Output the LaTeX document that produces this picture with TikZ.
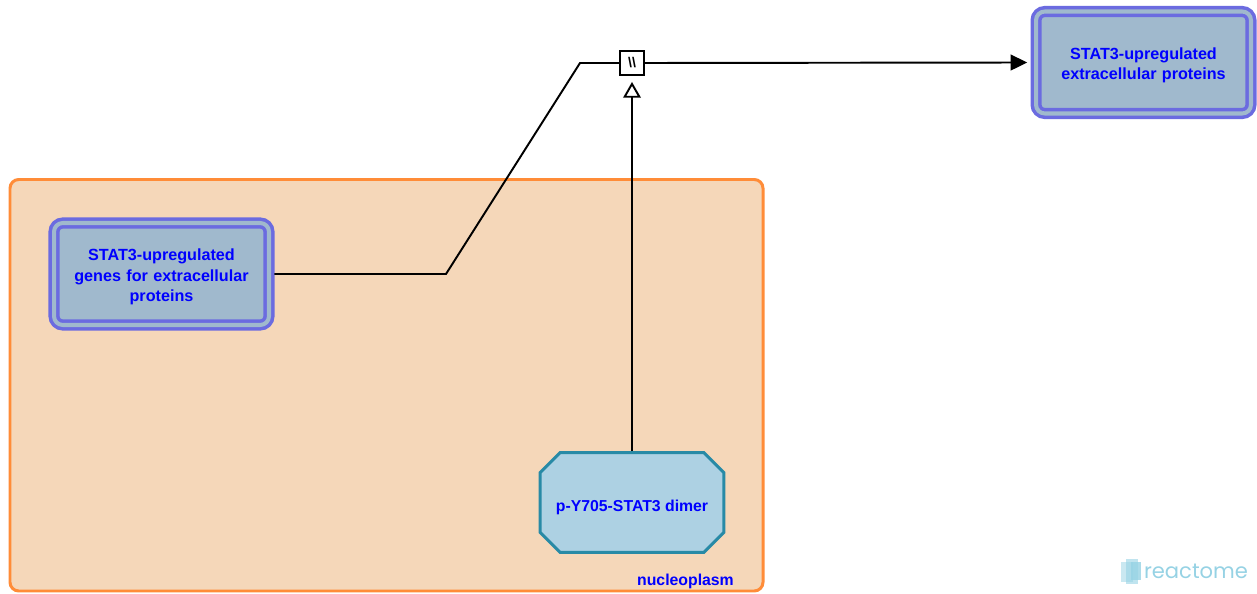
\documentclass[tikz,border=0pt]{standalone}
\usepackage{fontspec}
\setmainfont{Liberation Sans}
\newfontfamily\logofont{Poppins}
\usetikzlibrary{shapes.misc, arrows.meta, positioning}
\definecolor{compline}{RGB}{255,140,56}
\definecolor{compfill}{RGB}{245,215,185}
\definecolor{setline}{RGB}{107,107,224}
\definecolor{setfill}{RGB}{160,185,205}
\definecolor{cplxline}{RGB}{40,138,166}
\definecolor{cplxfill}{RGB}{173,209,227}
\definecolor{labelblue}{RGB}{0,0,255}
\definecolor{logo}{RGB}{150,210,228}

\begin{document}
\begin{tikzpicture}[
    x=0.02cm, y=-0.02cm,
    compartment/.style={draw=compline, fill=compfill, line width=1.7pt, rounded corners=5pt},
    complabel/.style={text=labelblue, font=\bfseries\fontsize{9}{11}\selectfont},
    entityset/.style={rectangle, rounded corners=5pt, draw=setline, double=setfill, double distance=2.3pt, line width=2pt, fill=setfill, text width=3.9cm, align=center, minimum width=4.3cm, minimum height=2.04cm, outer sep=3pt, text=labelblue, font=\bfseries\fontsize{9.2}{11.6}\selectfont, execute at begin node={\rule{0pt}{10.2pt}}},
    complex/.style={chamfered rectangle, chamfered rectangle xsep=8pt, inner xsep=1pt, draw=cplxline, fill=cplxfill, line width=1.7pt, minimum width=3.46cm, minimum height=2cm, text=labelblue, font=\bfseries\fontsize{9}{11}\selectfont, execute at begin node={\rule{0pt}{12.2pt}}},
    reaction/.style={rectangle, draw, fill=white, minimum size=0.48cm, inner sep=0pt, line width=0.9pt, font=\bfseries\fontsize{8}{8}\selectfont},
    flow/.style={line width=1.1pt}
]

\useasboundingbox (0,0) rectangle (1257,594);

% compartment
\draw[compartment] (10,179.5) rectangle (763,591);
\node[complabel, anchor=base east] (nucleolabel) at (740,585) {nucleoplasm};

% entities
\node[entityset] (genes) at (161.5,274) {STAT3-upregulated\\genes for extracellular\\proteins};
\node[entityset] (proteins) at (1143.5,62.5) {STAT3-upregulated\\extracellular proteins};
\node[complex] (dimer) at (632,502.5) {p-Y705-STAT3 dimer};
\node[reaction] (rxn) at (632,63) {\textbackslash\textbackslash};

% connectors
\coordinate (bendA) at (446,274);
\coordinate (bendB) at (580,63);
\draw[flow] (genes.east) -- (bendA) -- (bendB) -- (rxn.west);
\draw[flow, -{Triangle[length=9.5pt, width=9pt]}, shorten >=2pt] (rxn.east) -- (proteins.west);
\draw[flow, -{Triangle[open, fill=white, length=9pt, width=10pt]}, shorten >=3.5pt] (dimer.north) -- (rxn.south);

% logo
\fill[logo, opacity=0.5] (1121,562) rectangle (1133,582);
\fill[logo, opacity=0.6] (1126,559) rectangle (1138,584);
\fill[logo, opacity=0.8] (1131,562) rectangle (1141,580);
\node[text=logo, font=\logofont\fontsize{12}{12}\selectfont] (logotext) at (1196,571) {reactome};

\end{tikzpicture}
\end{document}
